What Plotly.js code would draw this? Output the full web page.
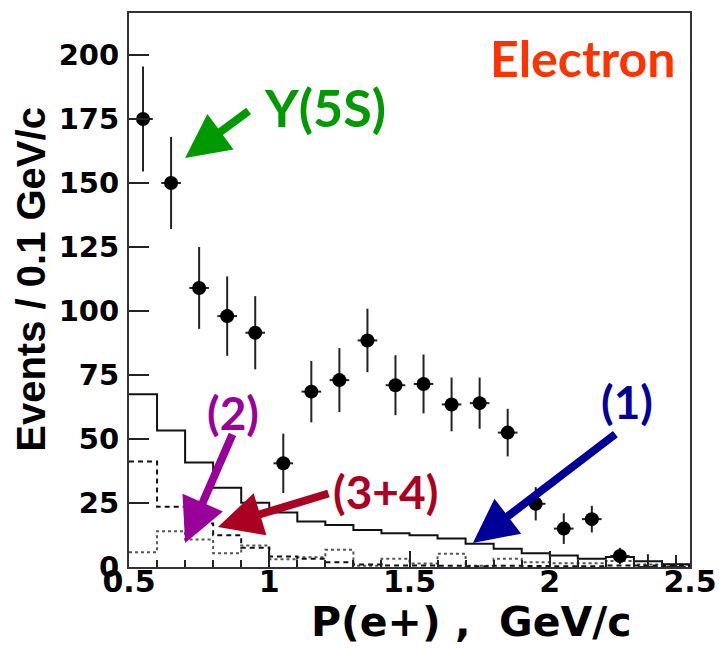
<!DOCTYPE html>
<html>
<head>
<meta charset="utf-8">
<script src="https://cdn.plot.ly/plotly-3.0.1.min.js"></script>
<style>html,body{margin:0;padding:0;background:#fff;}#chart{width:719px;height:649px;}</style>
</head>
<body>
<div id="chart"></div>
<script>
// Data points (bin centres, GeV/c) and events per 0.1 GeV/c
const pCenters = [0.55,0.65,0.75,0.85,0.95,1.05,1.15,1.25,1.35,1.45,1.55,1.65,1.75,1.85,1.95,2.05,2.15,2.25,2.35,2.45];
const events   = [175,150,109,98,91.5,40.5,68.5,73,88.5,71,71.5,63.5,64,52.5,24.7,15,18.7,4.3,0,0];
const errUp    = [20.5,18,16,15.5,14.3,11.6,12,12.5,12.4,11.7,11.5,10.5,10,9.3,6.5,6,5.2,3.2,5,4.7];
const errDown  = [20.5,18,16,15.5,14.3,11.6,12,12.5,12.4,11.7,11.5,10.5,10,9.3,6.5,6,5.2,3.2,0,0];

// Histogram bins (low edges) and contributions
const binLow = [0.5,0.6,0.7,0.8,0.9,1.0,1.1,1.2,1.3,1.4,1.5,1.6,1.7,1.8,1.9,2.0,2.1,2.2,2.3,2.4];
const binHigh = 2.5;
const hist1  = [67.5,53.3,40.8,31,25.1,21.3,17.8,16.4,14.5,13.2,12.4,11.1,9.1,7.1,5.4,4.5,3.2,3.9,2.2,1.1];
const hist34 = [41.2,23.5,17,12.4,7.5,4.1,3.2,1.9,1.0,0.6,0.6,0.5,0.3,0.5,0.4,0.3,0.3,0.6,0.6,0.4];
const hist2  = [5.8,14,10.7,5.4,8.4,3.0,3.8,6.7,0.5,3.2,1.4,5.2,0.5,3.2,1.9,1.5,1.5,2.3,1.0,1.0];

const xTicks = [0.5,1,1.5,2,2.5];
const yTicks = [0,25,50,75,100,125,150,175,200];

function stepTrace(vals, dash, color){
  const xs = binLow.concat([binHigh]);
  const ys = vals.concat([vals[vals.length-1]]);
  return {x: xs, y: ys, type:'scatter', mode:'lines',
    line:{shape:'hv', color: color, width: 2, dash: dash},
    hoverinfo:'skip', showlegend:false};
}

const traces = [
  stepTrace(hist2, 'dot', '#555555'),
  stepTrace(hist34, '5px,4px', '#111111'),
  stepTrace(hist1, 'solid', '#111111'),
  {
    x: pCenters, y: events, type:'scatter', mode:'markers',
    marker:{color:'#000', opacity:1, size: events.map(v => v > 0 ? 14 : 0), line:{width:0}},
    error_y:{type:'data', symmetric:false, array: errUp, arrayminus: errDown, color:'#222', thickness:2, width:0},
    error_x:{type:'constant', value:0.035, color:'#222', thickness:2, width:0},
    showlegend:false, cliponaxis:false
  }
];

const labelFont = (size, color) => ({family:'Lato, "Open Sans", sans-serif', size: size, color: color, weight: 'bold'});
const boldFont = (size, family) => ({family: family, size: size, color:'#000', weight:'bold'});

const layout = {
  width: 719, height: 649,
  margin: {l:129, r:29, t:13, b:82},
  paper_bgcolor:'#fff', plot_bgcolor:'#fff',
  showlegend:false,
  xaxis: {
    range:[0.5,2.5], tickvals: xTicks, ticktext: xTicks.map(String),
    ticks:'inside', ticklen:16, tickwidth:2, tickcolor:'#222',
    minor:{dtick:0.1, ticks:'inside', ticklen:7, tickwidth:2, tickcolor:'#222'},
    showgrid:false, zeroline:false,
    showline:true, linecolor:'#333', linewidth:2, mirror:true,
    tickfont: boldFont(30, '"DejaVu Sans", sans-serif'), ticklabelstandoff:-13,
    ticklabeloverflow:'allow'
  },
  yaxis: {
    range:[0,216.4], tickvals: yTicks, ticktext: yTicks.map(String),
    ticks:'inside', ticklen:20, tickwidth:2, tickcolor:'#222',
    showgrid:false, zeroline:false,
    showline:true, linecolor:'#333', linewidth:2, mirror:true,
    tickfont: boldFont(29, '"DejaVu Sans", sans-serif'), ticklabelstandoff:2
  },
  annotations: [
    {xref:'paper', yref:'paper', x:0.61, y:-0.1, xanchor:'center', yanchor:'middle', showarrow:false,
     text:'P(e+) ,  GeV/c', font: boldFont(41, '"DejaVu Sans", sans-serif')},
    {xref:'paper', yref:'paper', x:-0.175, y:0.52, xanchor:'center', yanchor:'middle', showarrow:false, textangle:-90,
     text:'Events / 0.1 GeV/c', font: boldFont(40, '"Liberation Sans", Arial, sans-serif')},
    {x:2.115, y:199, showarrow:false, text:'Electron', font: labelFont(50,'#ff3300')},
    {x:1.199, y:179.7, showarrow:false, text:'Y(5S)', font: labelFont(52,'#009900')},
    {x:2.275, y:64.5, showarrow:false, text:'(1)', font: labelFont(46,'#000099')},
    {x:0.871, y:60.5, showarrow:false, text:'(2)', font: labelFont(46,'#990099')},
    {x:1.413, y:29.3, showarrow:false, text:'(3+4)', font: labelFont(46,'#aa0022')},
    {x:0.70, y:159.8, ax:65, ay:-48, text:'', showarrow:true, arrowhead:2, arrowsize:1.1, arrowwidth:8, arrowcolor:'#009900'},
    {x:1.726, y:9.4, ax:144, ay:-110, text:'', showarrow:true, arrowhead:2, arrowsize:1.1, arrowwidth:8, arrowcolor:'#000099'},
    {x:0.70, y:9.4, ax:48, ay:-110, text:'', showarrow:true, arrowhead:2, arrowsize:1.1, arrowwidth:8, arrowcolor:'#990099'},
    {x:0.817, y:15.6, ax:112, ay:-34, text:'', showarrow:true, arrowhead:2, arrowsize:1.1, arrowwidth:8, arrowcolor:'#aa0022'}
  ]
};

Plotly.newPlot('chart', traces, layout, {displayModeBar:false, staticPlot:true});
</script>
</body>
</html>
